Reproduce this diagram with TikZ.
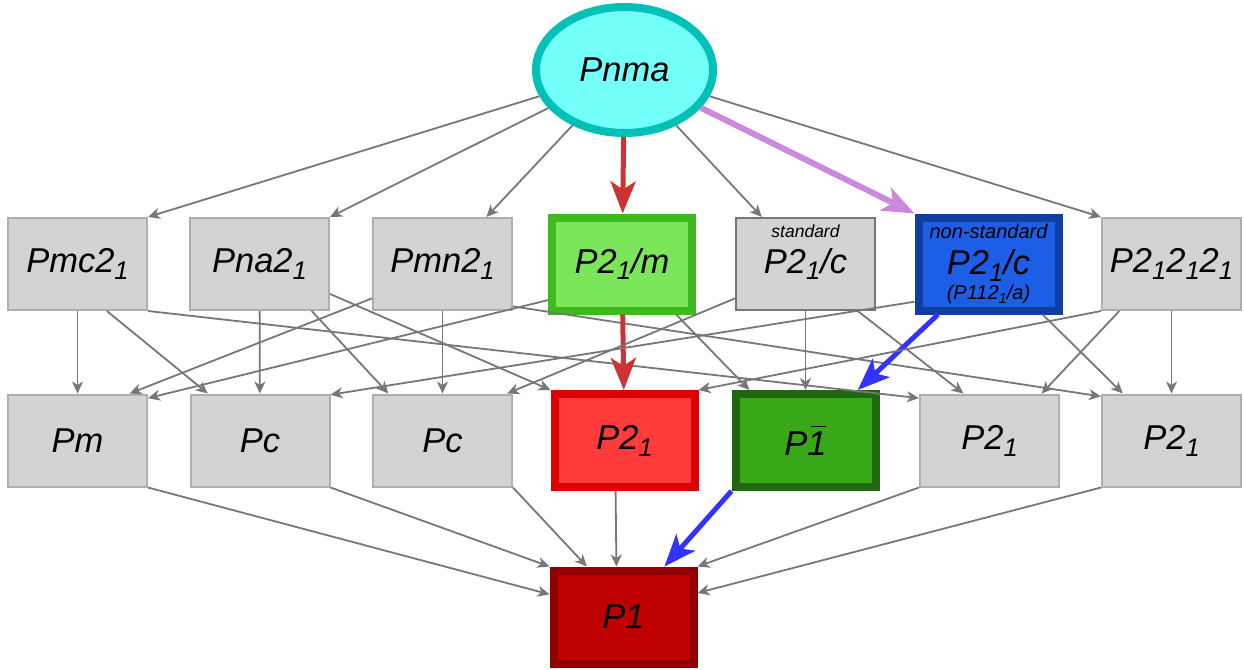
\documentclass[tikz,border=0pt]{standalone}
\usepackage{fontspec}
\setmainfont{Liberation Sans}
\usepackage{graphicx}
\usetikzlibrary{arrows.meta}
\usetikzlibrary{shapes}

\definecolor{ovfill}{HTML}{73FFFA}
\definecolor{ovline}{HTML}{00C0B8}
\definecolor{boxfill}{HTML}{D3D3D3}
\definecolor{boxline}{HTML}{AEAEAE}
\definecolor{stdline}{HTML}{767676}
\definecolor{edgegray}{HTML}{777777}
\definecolor{lgfill}{HTML}{7BE65A}
\definecolor{lgline}{HTML}{40B820}
\definecolor{bluefill}{HTML}{1C5FE6}
\definecolor{blueline}{HTML}{0F3F9E}
\definecolor{redfill}{HTML}{FF3B3B}
\definecolor{redline}{HTML}{DD0000}
\definecolor{dgfill}{HTML}{38A818}
\definecolor{dgline}{HTML}{1F6810}
\definecolor{onefill}{HTML}{BE0000}
\definecolor{oneline}{HTML}{900000}
\definecolor{redarrow}{HTML}{CC3333}
\definecolor{violetarrow}{HTML}{CC88DD}
\definecolor{bluearrow}{HTML}{3333FF}

\newcommand\lbl{\fontsize{34.5}{38}\selectfont\itshape}
\newcommand\smalllbl{\fontsize{20}{22}\selectfont\itshape}
\newcommand\subidx[1]{\raisebox{-0.2em}{\scalebox{0.74}{#1}}}
\newcommand\barone{\rlap{\kern3.5pt\rule[28pt]{15pt}{1.8pt}}1}

\tikzset{
	grp/.style={
		draw=boxline,
		fill=boxfill,
		rectangle,
		line width=2pt,
		minimum width=139pt,
		minimum height=92pt,
		inner sep=0pt,
		align=center,
		font=\lbl
	},
	keygrp/.style={
		grp,
		line width=8pt,
		minimum width=140pt,
		minimum height=93pt
	},
	sgroup/.style={
		draw=edgegray,
		line width=1.8pt,
		-{Stealth[length=12pt,width=11pt,inset=3.5pt]}
	},
	route/.style={
		line width=5pt,
		-{Stealth[length=32pt,width=25pt,inset=8pt]}
	},
}

\begin{document}
\begin{tikzpicture}[x=1pt,y=-1pt]
	\useasboundingbox (0,0) rectangle (1244,669);

	\node[ellipse, draw=ovline, fill=ovfill, line width=8pt, minimum width=177pt, minimum height=126pt, inner sep=0pt, font=\lbl] (pnma) at (624.5,70) {Pnma};

	% maximal subgroups
	\node[grp] (pmc) at (77.5,264) {Pmc2\subidx{1}};
	\node[grp] (pna) at (259.5,264) {Pna2\subidx{1}};
	\node[grp] (pmn) at (442.5,264) {Pmn2\subidx{1}};
	\node[keygrp, draw=lgline, fill=lgfill] (ptwom) at (622,264) {P2\subidx{1}/m};
	\node[grp, draw=stdline, label={[anchor=north, inner sep=0pt, yshift=-8pt, font=\fontsize{17.5}{20}\selectfont\itshape]north:standard}] (pcstd) at (805.5,264) {P2\subidx{1}/c};
	\node[keygrp, draw=blueline, fill=bluefill] (pcns) at (988.5,264) {{\smalllbl non-standard}\\[-2pt]P2\subidx{1}/c\\[-13pt]{\smalllbl (P112\subidx{1}/a)}};
	\node[grp] (ptri) at (1171.5,264) {P2\subidx{1}2\subidx{1}2\subidx{1}};

	\node[grp] (pm) at (77.5,440.5) {Pm};
	\node[grp] (pca) at (260,440.5) {Pc};
	\node[grp] (pcb) at (442.5,440.5) {Pc};
	\node[keygrp, draw=redline, fill=redfill] (ptwoa) at (624.5,440.5) {P2\subidx{1}};
	\node[keygrp, draw=dgline, fill=dgfill] (pbar) at (805.5,440.5) {P\barone};
	\node[grp] (ptwob) at (989.5,440.5) {P2\subidx{1}};
	\node[grp] (ptwoc) at (1171.5,440.5) {P2\subidx{1}};

	\node[keygrp, draw=oneline, fill=onefill] (pone) at (623.5,617) {P1};

	\draw[sgroup] (pnma) -- (pmc.north east);
	\draw[sgroup] (pnma) -- (pna.north east);
	\draw[sgroup] (pnma) -- (pmn);
	\draw[route, draw=redarrow] (pnma) -- (ptwom);
	\draw[sgroup] (pnma) -- (pcstd);
	\draw[route, draw=violetarrow, line width=6pt] (pnma) -- (pcns.north west);
	\draw[sgroup] (pnma) -- (ptri.north west);

	\draw[sgroup] (pmc) -- (pm);
	\draw[sgroup] (pmc.-58) -- (pca.138);
	\draw[sgroup] (pmc.south east) -- (ptwob.149);
	\draw[sgroup] (pna) -- (pca);
	\draw[sgroup] (pna.-42) -- (pcb.139);
	\draw[sgroup] (pna.-23) -- (ptwoa.north west);
	\draw[sgroup] (pmn.-154) -- (pm.42);
	\draw[sgroup] (pmn) -- (pcb);
	\draw[sgroup] (pmn.-31) -- (ptwoc.148);
	\draw[sgroup] (ptwom.-154) -- (pm.31);
	\draw[route, draw=redarrow] (ptwom) -- (ptwoa);
	\draw[sgroup] (ptwom.-43) -- (pbar.138);
	\draw[sgroup] (pcstd.-154) -- (pcb.36);
	\draw[sgroup] (pcstd) -- (pbar);
	\draw[sgroup] (pcstd.-42) -- (ptwob.119);
	\draw[sgroup] (pcns.-153) -- (pca.33);
	\draw[route, draw=bluearrow] (pcns.-135) -- (pbar.44);
	\draw[sgroup] (pcns.-43) -- (ptwoc.136);
	\draw[sgroup] (ptri.south west) -- (ptwoa.north east);
	\draw[sgroup] (ptri.-138) -- (ptwob.42);
	\draw[sgroup] (ptri) -- (ptwoc);

	\draw[sgroup] (pm.south east) -- (pone.163);
	\draw[sgroup] (pca.south east) -- (pone.north west);
	\draw[sgroup] (pcb.south east) -- (pone.126);
	\draw[sgroup] (ptwoa.-100) -- (pone.98);
	\draw[route, draw=bluearrow] (pbar.south west) -- (pone.51);
	\draw[sgroup] (ptwob.south west) -- (pone.north east);
	\draw[sgroup] (ptwoc.south west) -- (pone.18);
\end{tikzpicture}
\end{document}
